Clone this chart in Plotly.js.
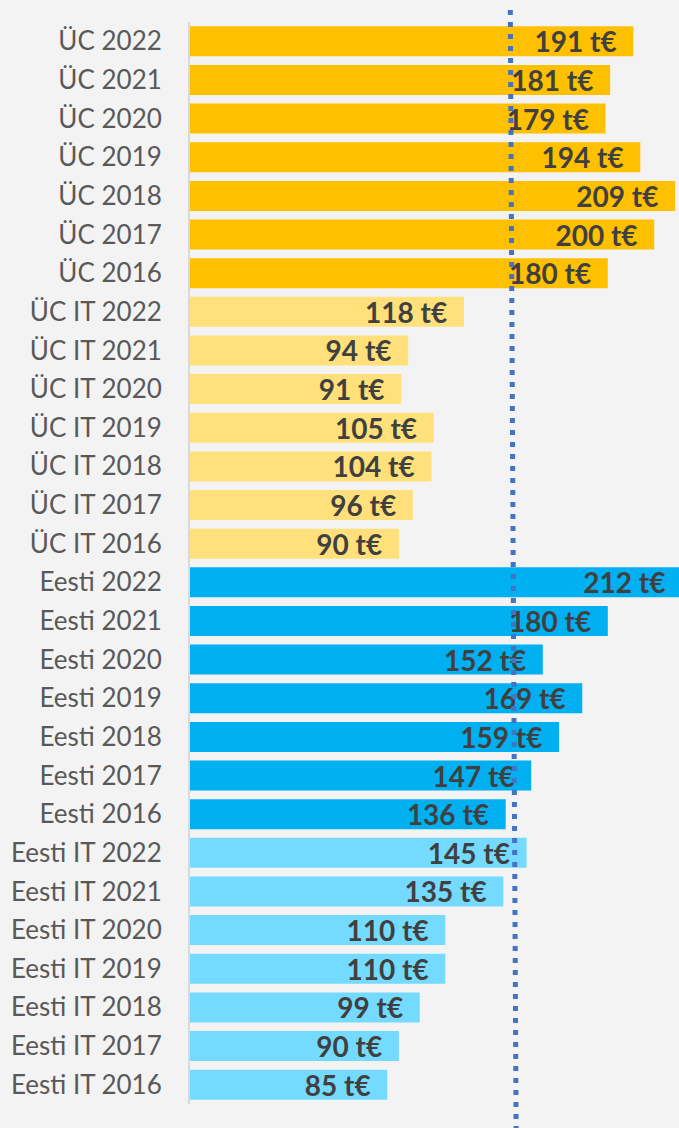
<!DOCTYPE html>
<html>
<head>
<meta charset="utf-8">
<script src="https://cdn.plot.ly/plotly-3.0.1.min.js"></script>
<style>html,body{margin:0;padding:0;background:#f3f3f3;overflow:hidden;}#chart{width:683px;height:1128px;}</style>
</head>
<body>
<div id="chart"></div>
<script>
const categories = [
  "ÜC 2022","ÜC 2021","ÜC 2020","ÜC 2019","ÜC 2018","ÜC 2017","ÜC 2016",
  "ÜC IT 2022","ÜC IT 2021","ÜC IT 2020","ÜC IT 2019","ÜC IT 2018","ÜC IT 2017","ÜC IT 2016",
  "Eesti 2022","Eesti 2021","Eesti 2020","Eesti 2019","Eesti 2018","Eesti 2017","Eesti 2016",
  "Eesti IT 2022","Eesti IT 2021","Eesti IT 2020","Eesti IT 2019","Eesti IT 2018","Eesti IT 2017","Eesti IT 2016"
];
const values = [
  191,181,179,194,209,200,180,
  118,94,91,105,104,96,90,
  212,180,152,169,159,147,136,
  145,135,110,110,99,90,85
];
const groups = [
  "ÜC","ÜC","ÜC","ÜC","ÜC","ÜC","ÜC",
  "ÜC IT","ÜC IT","ÜC IT","ÜC IT","ÜC IT","ÜC IT","ÜC IT",
  "Eesti","Eesti","Eesti","Eesti","Eesti","Eesti","Eesti",
  "Eesti IT","Eesti IT","Eesti IT","Eesti IT","Eesti IT","Eesti IT","Eesti IT"
];
const groupColors = {"ÜC":"#FFC000","ÜC IT":"#FFE07A","Eesti":"#00B0F0","Eesti IT":"#75DAFF"};
const unit = " t€";
const referenceLine = [138, 140.5];

const trace = {
  type: "bar",
  orientation: "h",
  y: categories,
  x: values,
  marker: {color: groups.map(g => groupColors[g])},
  text: values.map(v => v + unit + "\u00a0\u00a0"),
  textposition: "inside",
  insidetextanchor: "end",
  textangle: 0,
  constraintext: "none",
  insidetextfont: {family: "Lato", size: 28, color: "#404040", weight: 700},
  hoverinfo: "none",
  cliponaxis: false
};

const layout = {
  width: 683, height: 1128,
  paper_bgcolor: "#f3f3f3",
  plot_bgcolor: "#f3f3f3",
  margin: {l: 190, r: 0, t: 22, b: 24},
  bargap: 0.224,
  showlegend: false,
  xaxis: {range: [0, 212.4], visible: false, fixedrange: true},
  yaxis: {
    type: "category",
    categoryorder: "array",
    categoryarray: categories,
    autorange: "reversed",
    showline: true, linecolor: "#d9d9d9", linewidth: 2,
    showgrid: false, zeroline: false,
    ticks: "", ticklabelstandoff: 21,
    tickfont: {family: "Lato", size: 26, color: "#595959"}
  },
  shapes: [{
    type: "line", xref: "x", yref: "paper",
    x0: referenceLine[0], x1: referenceLine[1], y0: 1.011, y1: -0.025,
    line: {color: "#4472C4", width: 5, dash: "5px,7px"},
    layer: "above"
  }]
};

Plotly.newPlot("chart", [trace], layout, {displayModeBar: false, staticPlot: true});
</script>
</body>
</html>
